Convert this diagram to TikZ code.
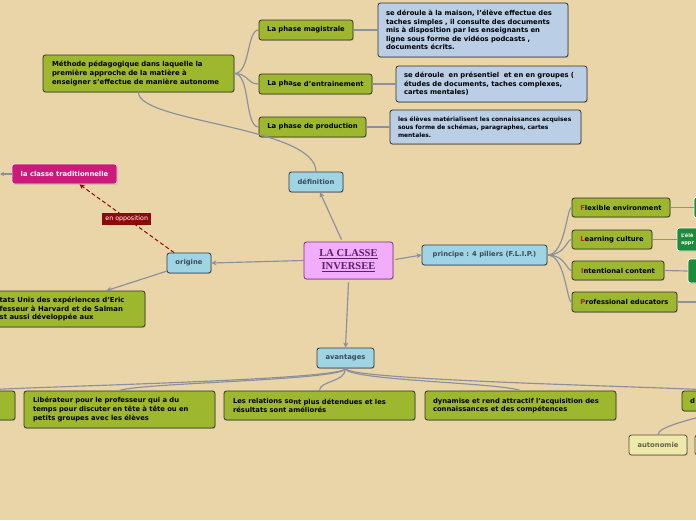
\documentclass[tikz,border=0pt]{standalone}
\usepackage{fontspec}
\setmainfont{DejaVu Sans}
\newfontfamily\titlefont{Liberation Serif}
\usetikzlibrary{arrows.meta,shadows,calc}
\definecolor{bgc}{RGB}{233,213,168}
\definecolor{gfill}{RGB}{157,184,46}
\definecolor{bordc}{RGB}{52,50,36}
\definecolor{bfill}{RGB}{186,206,230}
\definecolor{cfill}{RGB}{158,212,228}
\definecolor{ctext}{RGB}{60,74,88}
\definecolor{pfill}{RGB}{241,172,250}
\definecolor{pbord}{RGB}{122,46,134}
\definecolor{ptext}{RGB}{90,30,106}
\definecolor{mfill}{RGB}{204,26,122}
\definecolor{rfill}{RGB}{140,10,10}
\definecolor{dgreen}{RGB}{30,138,60}
\definecolor{yfill}{RGB}{238,232,170}
\definecolor{ytext}{RGB}{100,100,80}
\definecolor{linec}{RGB}{138,144,158}
\definecolor{flipred}{RGB}{210,24,24}
\newcommand{\mline}[1]{\mbox{#1}}
\tikzset{
  base/.style={rounded corners=2.5pt, draw=bordc, line width=0.8pt, inner ysep=0pt,
    font=\bfseries\fontsize{6.8}{8.7}\selectfont, align=left,
    drop shadow={shadow xshift=0.7pt, shadow yshift=-0.9pt, opacity=0.35}},
  gbox/.style={base, fill=gfill},
  bbox/.style={base, fill=bfill},
  cbox/.style={base, fill=cfill, text=ctext, align=center, draw=ctext!80!black},
  dbox/.style={base, fill=dgreen, draw=white, text=white},
  ybox/.style={base, fill=yfill, text=ytext, draw=ytext!80!black, align=center},
  conn/.style={draw=linec, line width=1.15pt},
  arr/.style={conn, -{Stealth[length=5pt,width=5pt]}},
}
\begin{document}
\begin{tikzpicture}[x=1pt,y=-1pt]
\useasboundingbox (0,0) rectangle (696,520);
\fill[bgc] (0,0) rectangle (696,520);
\clip (0,0) rectangle (696,520);

% --- nodes ---
\node[gbox, text width=173pt, inner xsep=9pt, minimum height=37pt, font=\bfseries\fontsize{6.9}{9}\selectfont] (meth) at (138.5,73.5)
  {\mline{Méthode pédagogique dans laquelle la}\\\mline{première approche de la matière à}\\\mline{enseigner s'effectue de manière autonome}};
\node[gbox, minimum width=94pt, minimum height=20pt, align=center] (mag) at (306,30) {La phase magistrale};
\node[gbox, minimum width=113pt, minimum height=20pt, align=center] (ent) at (315.5,84) {La pha\raisebox{-0.6pt}{se d'entrainement}};
\node[gbox, minimum width=107pt, minimum height=20pt, align=center] (prod) at (312.5,127) {La phase de production};

\node[bbox, text width=174pt, inner xsep=8pt, minimum height=54pt, font=\bfseries\fontsize{6.8}{8.5}\selectfont] (b1) at (473,30)
  {\mline{se déroule à la maison, l'élève effectue des}\\\mline{taches simples , il consulte des documents}\\\mline{mis à disposition par les enseignants en}\\\mline{ligne sous forme de vidéos podcasts ,}\\\mline{documents écrits.}};
\node[bbox, text width=175pt, inner xsep=8pt, minimum height=36pt, font=\bfseries\fontsize{6.8}{8.5}\selectfont] (b2) at (491.5,84)
  {\mline{se déroule \ en présentiel \ et en en groupes (}\\\mline{études de documents, taches complexes,}\\\mline{cartes mentales)}};
\node[bbox, text width=175pt, inner xsep=8pt, minimum height=34pt, font=\bfseries\fontsize{5.95}{7.8}\selectfont] (b3) at (485.5,127)
  {\mline{les élèves matérialisent les connaissances acquises}\\\mline{sous forme de schémas, paragraphes, cartes}\\\mline{mentales.}};

\node[cbox, minimum width=54pt, minimum height=20pt] (def) at (316,182) {définition};
\node[base, fill=pfill, draw=pbord, text=ptext, minimum width=89pt, minimum height=37pt, align=center,
  font=\titlefont\bfseries\fontsize{10.5}{13}\selectfont] (title) at (348.5,260.5)
  {\underline{LA CLASSE}\\\underline{INVERSEE}};
\node[cbox, minimum width=44pt, minimum height=20pt] (orig) at (189,263) {origine};
\node[base, fill=mfill, draw=white!85!mfill, text=white, minimum width=105pt, minimum height=20pt, align=center] (trad) at (64.5,174) {la classe traditionnelle};

\node[gbox, minimum width=205pt, minimum height=36pt] (etats) at (42.5,309) {};
\node[font=\bfseries\fontsize{6.9}{8.7}\selectfont, align=left, anchor=west, inner sep=0pt] (etatsT) at (-0.5,309)
  {tats Unis des expériences d'Eric\\fesseur à Harvard et de Salman\\st aussi développée aux};

\node[cbox, minimum width=125pt, minimum height=20pt] (princ) at (484.5,255) {principe : 4 piliers (F.L.I.P.)};
\node[gbox, minimum width=98pt, minimum height=19pt, align=center] (flex) at (621,207.5) {\textcolor{flipred}{F}lexible environment};
\node[gbox, minimum width=80pt, minimum height=19pt, align=center] (learn) at (612,239.5) {\textcolor{flipred}{L}earning culture};
\node[gbox, minimum width=92pt, minimum height=19pt, align=center] (inten) at (618,270.5) {\textcolor{flipred}{I}ntentional content};
\node[gbox, minimum width=105pt, minimum height=20pt, align=center] (prof) at (624.5,302) {\textcolor{flipred}{P}rofessional educators};

\node[dbox, minimum width=46pt, minimum height=21pt] (r1) at (717,207.5) {};
\node[dbox, minimum width=63pt, minimum height=23pt, font=\bfseries\fontsize{5}{6.8}\selectfont, text width=55pt, inner xsep=4pt] (r2) at (708.5,239.5) {L'élè\\appr};
\node[dbox, minimum width=52pt, minimum height=24pt] (r3) at (714,271) {};
\coordinate (r4) at (700,302);

\node[cbox, minimum width=57pt, minimum height=20pt] (avant) at (345.5,358) {avantages};
\node[gbox, minimum width=75pt, minimum height=29pt] (bl) at (-22.5,405.5) {};
\node[gbox, text width=173pt, inner xsep=9pt, minimum height=37pt] (lib) at (119.5,409.5)
  {\mline{Libérateur pour le professeur qui a du}\\\mline{temps pour discuter en tête à tête ou en}\\\mline{petits groupes avec les élèves}};
\node[gbox, text width=173pt, inner xsep=9pt, minimum height=29pt] (rel) at (319.5,405.5)
  {\mline{Les relations so\raisebox{-0.6pt}{nt plus détendues et les}}\\\mline{résultats sont améliorés}};
\node[gbox, text width=175pt, inner xsep=8pt, minimum height=29pt] (dyn) at (520.5,405.5)
  {\mline{dynamise et rend attractif l'acquisition des}\\\mline{connaissances et des compétences}};
\node[gbox, text width=62pt, inner xsep=8pt, minimum height=20pt] (br) at (721,401) {d};
\node[ybox, minimum width=58pt, minimum height=20pt] (aut) at (658,445) {autonomie};
\node[ybox, minimum width=46pt, minimum height=20pt] (aut2) at (718,445) {};

% --- connectors ---
\draw[conn] (meth.east) .. controls +(16,0) and +(-12,0) .. (mag.west);
\draw[conn] (meth.east) .. controls +(14,0) and +(-12,0) .. (ent.west);
\draw[conn] (meth.east) .. controls +(16,0) and +(-14,0) .. (prod.west);
\draw[conn] (meth.south) .. controls +(0,30) and +(0,-45) .. (def.north);
\draw[conn] (mag.east) -- (b1.west |- mag.east);
\draw[conn] (ent.east) -- (b2.west |- ent.east);
\draw[conn] (prod.east) -- (b3.west |- prod.east);

\draw[arr] ($(title.north)+(-7,-2)$) -- ($(def.south)+(4,0)$);
\draw[arr] (title.west) -- (orig.east);
\draw[arr] (orig.200) -- ($(etats.north)+(64,0)$);
\draw[rfill, line width=1pt, dashed, dash pattern=on 4pt off 2.5pt, -{Stealth[length=5pt,width=5pt]}]
  ($(orig.north)+(-15,0)$) -- node[pos=0.5, fill=rfill, text=white, inner xsep=3pt, inner ysep=0pt, minimum height=12pt,
  font=\fontsize{6.3}{7.5}\selectfont] (oppo) {en opposition} ($(trad.south)+(15,0)$);
\coordinate (tl) at (0,174);
\draw[conn, -{Stealth[length=4pt,width=4pt]}] (trad.west) -- (tl);

\draw[arr] ($(title.east)+(2,-1)$) -- (princ.west);
\draw[conn] (princ.east) .. controls +(18,0) and +(-5,0) .. (flex.west);
\draw[conn] (princ.east) .. controls +(18,0) and +(-5,0) .. (learn.west);
\draw[conn] (princ.east) .. controls +(18,0) and +(-5,0) .. (inten.west);
\draw[conn] (princ.east) .. controls +(18,0) and +(-5,0) .. (prof.west);
\draw[conn] (flex.east) -- (r1.west);
\draw[conn] (learn.east) -- (r2.west);
\draw[conn] (inten.east) -- (r3.west);
\draw[conn] (prof.east) -- (r4);

\draw[arr] ($(title.south)+(0,3)$) -- (avant.north);
\draw[conn] (avant.south) .. controls +(0,12) and +(40,-4) .. (bl.north);
\draw[conn] (avant.south) .. controls +(0,12) and +(20,-8) .. (lib.north);
\draw[conn] (avant.south) .. controls +(0,14) and +(0,-10) .. (rel.north);
\draw[conn] (avant.south) .. controls +(0,12) and +(-20,-8) .. (dyn.north);
\draw[conn] (avant.south) .. controls +(0,12) and +(-60,-4) .. (br.north);
\draw[conn] (aut.north) .. controls +(0,-8) and +(-30,8) .. (br.south);
\end{tikzpicture}
\end{document}
